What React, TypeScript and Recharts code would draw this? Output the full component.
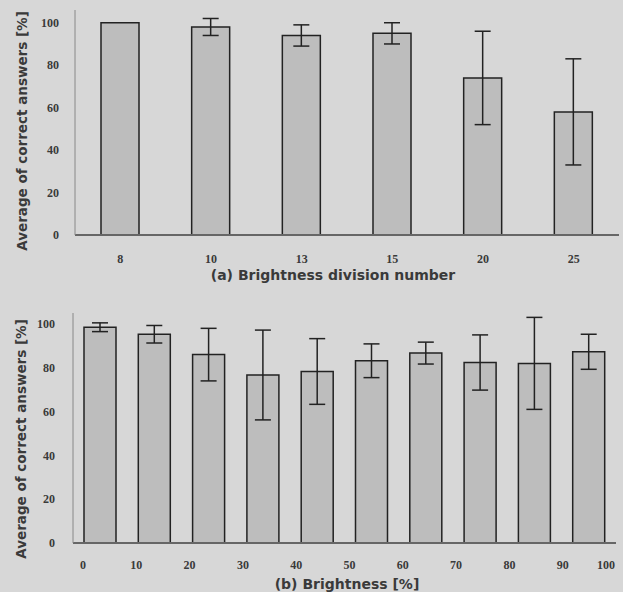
import { BarChart, Bar, XAxis, YAxis, ErrorBar } from 'recharts'

const divisionLabels = ['8', '10', '13', '15', '20', '25']
const divisionMeans = [100, 98, 94, 95, 74, 58]
const divisionErrors = [0, 4, 5, 5, 22, 25]

const brightnessMids = [5, 15, 25, 35, 45, 55, 65, 75, 85, 95]
const brightnessMeans = [98.5, 95.3, 86, 76.7, 78.3, 83.2, 86.7, 82.4, 82, 87.3]
const brightnessErrors = [2, 4, 12, 20.5, 15, 7.7, 5, 12.6, 21, 8]
const brightnessTicks = [0, 10, 20, 30, 40, 50, 60, 70, 80, 90, 100]

const percentTicks = [0, 20, 40, 60, 80, 100]

const divisionData = divisionLabels.map((name, i) => ({
  name,
  mean: divisionMeans[i],
  err: divisionErrors[i],
}))

const brightnessData = brightnessMids.map((mid, i) => ({
  mid,
  mean: brightnessMeans[i],
  err: brightnessErrors[i],
}))

const BG = '#d7d7d7'
const BAR = '#bdbdbd'
const INK = '#222'
const TEXT = '#3a3a3a'
const tickStyle = { fontSize: 12, fill: TEXT, fontFamily: '"Liberation Serif", serif', fontWeight: 700 }
const titleStyle = { fontSize: 13.5, fill: TEXT, fontFamily: '"DejaVu Sans", sans-serif', fontWeight: 700 }

const yTitle = (x: number, y: number) => () => (
  <text x={x} y={y} transform={`rotate(-90 ${x} ${y})`} textAnchor="middle" dominantBaseline="central" style={titleStyle}>
    Average of correct answers [%]
  </text>
)

const xTitle = (x: number, y: number, value: string) => () => (
  <text x={x} y={y} textAnchor="middle" dominantBaseline="central" style={{ ...titleStyle, fontSize: 14 }}>
    {value}
  </text>
)

// brightness labels drift a little left of the bin edges in the original
const BrightnessTick = (props: any) => {
  const { x, y, payload, index } = props
  const last = index === brightnessTicks.length - 1
  return (
    <text
      x={last ? Math.min(x + 4, 622) : x + 10 - index}
      y={y}
      dy="0.71em"
      textAnchor={last ? 'end' : 'middle'}
      style={tickStyle}
    >
      {payload.value}
    </text>
  )
}

export default function App() {
  return (
    <div style={{ position: 'absolute', left: 0, top: 0, width: 623, height: 592, background: BG }}>
      <BarChart width={623} height={290} data={divisionData} margin={{ top: 10, right: 4, bottom: 25, left: 0 }}>
        <XAxis
          dataKey="name"
          height={30}
          tickSize={0}
          tickMargin={19}
          tick={tickStyle}
          axisLine={{ stroke: '#666', strokeWidth: 2 }}
          label={xTitle(333, 275, '(a) Brightness division number')}
        />
        <XAxis xAxisId="frame" orientation="top" dataKey="name" height={0} tick={false} tickLine={false} axisLine={{ stroke: INK, strokeWidth: 2 }} />
        <YAxis
          width={75}
          domain={[0, 106]}
          ticks={percentTicks}
          tickSize={0}
          tickMargin={16}
          tick={tickStyle}
          axisLine={{ stroke: '#888', strokeWidth: 1 }}
          label={yTitle(22, 131)}
        />
        <YAxis yAxisId="frame" orientation="right" width={0} domain={[0, 106]} tick={false} tickLine={false} axisLine={{ stroke: INK, strokeWidth: 2 }} />
        <Bar dataKey="mean" fill={BAR} stroke={INK} strokeWidth={1.5} barSize={38} isAnimationActive={false}>
          <ErrorBar dataKey="err" width={8} stroke={INK} strokeWidth={1.5} />
        </Bar>
      </BarChart>
      <BarChart width={623} height={302} data={brightnessData} margin={{ top: 23, right: 7, bottom: 19, left: 0 }}>
        <XAxis
          dataKey="mid"
          type="number"
          domain={[0, 100]}
          ticks={brightnessTicks}
          height={30}
          tickSize={0}
          tickMargin={17}
          tick={<BrightnessTick />}
          axisLine={{ stroke: '#666', strokeWidth: 2 }}
          label={xTitle(347, 294, '(b) Brightness [%]')}
        />
        <XAxis xAxisId="frame" orientation="top" dataKey="mid" type="number" domain={[0, 100]} height={0} tick={false} tickLine={false} axisLine={{ stroke: INK, strokeWidth: 2 }} />
        <YAxis
          width={73}
          domain={[0, 105]}
          ticks={percentTicks}
          tickSize={0}
          tickMargin={18}
          tick={tickStyle}
          axisLine={{ stroke: '#888', strokeWidth: 1 }}
          label={yTitle(21, 149)}
        />
        <YAxis yAxisId="frame" orientation="right" width={0} domain={[0, 105]} tick={false} tickLine={false} axisLine={{ stroke: INK, strokeWidth: 2 }} />
        <Bar dataKey="mean" fill={BAR} stroke={INK} strokeWidth={1.5} barSize={32} isAnimationActive={false}>
          <ErrorBar dataKey="err" width={8} stroke={INK} strokeWidth={1.5} />
        </Bar>
      </BarChart>
    </div>
  )
}
